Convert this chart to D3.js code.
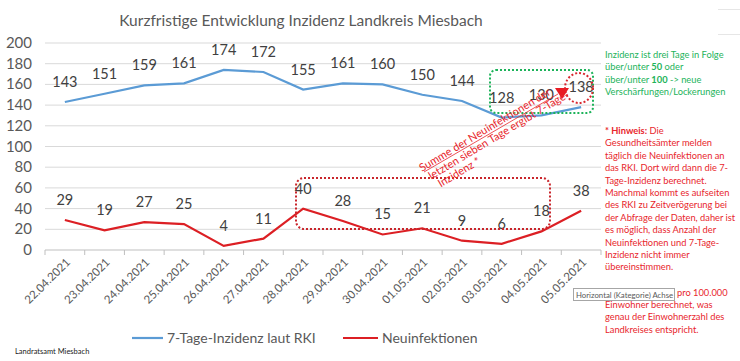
<!DOCTYPE html>
<html>
<head>
<meta charset="utf-8">
<title>Inzidenz Miesbach</title>
<script src="https://cdnjs.cloudflare.com/ajax/libs/d3/7.8.5/d3.min.js"></script>
<style>
  body { margin:0; background:#fff; }
  svg { font-family: Lato, "Liberation Sans", sans-serif; }
</style>
</head>
<body>
<svg width="740" height="361"></svg>
<script>
// data
var dates = ["22.04.2021","23.04.2021","24.04.2021","25.04.2021","26.04.2021","27.04.2021","28.04.2021",
             "29.04.2021","30.04.2021","01.05.2021","02.05.2021","03.05.2021","04.05.2021","05.05.2021"];
var inzidenz = [143,151,159,161,174,172,155,161,160,150,144,128,130,138];
var neuinfektionen = [29,19,27,25,4,11,40,28,15,21,9,6,18,38];
var yTicks = [0,20,40,60,80,100,120,140,160,180,200];

var greenNote = [
  [["Inzidenz ist drei Tage in Folge", false]],
  [["über/unter ", false], ["50", true], [" oder", false]],
  [["über/unter ", false], ["100", true], [" -> neue", false]],
  [["Verschärfungen/Lockerungen", false]]
];
var redNote = [
  [["* Hinweis:", true], [" Die", false]],
  [["Gesundheitsämter melden", false]],
  [["täglich die Neuinfektionen an", false]],
  [["das RKI. Dort wird dann die 7-", false]],
  [["Tage-Inzidenz berechnet.", false]],
  [["Manchmal kommt es aufseiten", false]],
  [["des RKI zu Zeitverögerung bei", false]],
  [["der Abfrage der Daten, daher ist", false]],
  [["es möglich, dass Anzahl der", false]],
  [["Neuinfektionen und 7-Tage-", false]],
  [["Inzidenz nicht immer", false]],
  [["übereinstimmen.", false]]
];
var redNote2 = [
  [["Einwohner berechnet, was", false]],
  [["genau der Einwohnerzahl des", false]],
  [["Landkreises entspricht.", false]]
];
var sumNote = ["Summe der Neuinfektionen der", "letzten sieben Tage ergibt 7-Tage-", "Inzidenz *"];

var svg = d3.select("svg");
var blue = "#5b9bd5", red = "#dc1f24", textRed = "#e8262c", green = "#1db35a";

var x = d3.scaleBand().domain(dates).range([45, 601]);
var y = d3.scaleLinear().domain([0, 200]).range([250, 43]);
var cx = function(d) { return x(d) + x.bandwidth() / 2; };

// title
svg.append("text").attr("x", 301).attr("y", 26).attr("text-anchor", "middle")
  .style("font-size", "15.5px").style("fill", "#595959")
  .text("Kurzfristige Entwicklung Inzidenz Landkreis Miesbach");

// grid
svg.append("g").selectAll("line").data(yTicks.filter(function(t){return t>0;})).enter().append("line")
  .attr("x1", 45).attr("x2", 601)
  .attr("y1", function(d){return y(d);}).attr("y2", function(d){return y(d);})
  .style("stroke", "#d9d9d9").style("stroke-width", 1);

// y labels
svg.append("g").selectAll("text").data(yTicks).enter().append("text")
  .attr("x", 32).attr("y", function(d){return y(d) + 5;})
  .attr("text-anchor", "end").style("font-size", "15px").style("fill", "#595959")
  .text(function(d){return d;});

// x axis
var xAxis = svg.append("g").attr("transform", "translate(0,250)");
xAxis.append("line").attr("x1", 45).attr("x2", 601).style("stroke", "#bfbfbf");
xAxis.selectAll("line.tk").data(dates.concat(["end"])).enter().append("line").attr("class", "tk")
  .attr("x1", function(d){ return d === "end" ? 601 : x(d); })
  .attr("x2", function(d){ return d === "end" ? 601 : x(d); })
  .attr("y1", 0).attr("y2", 5).style("stroke", "#bfbfbf");
xAxis.selectAll("text").data(dates).enter().append("text")
  .attr("transform", function(d){ return "translate(" + (cx(d) + 6) + ",13) rotate(-45)"; })
  .attr("text-anchor", "end").style("font-size", "11.5px").style("fill", "#595959")
  .text(function(d){return d;});

// lines
var line = function(vals) {
  return d3.line().x(function(d, i){ return cx(dates[i]); }).y(function(d){ return y(d); })(vals);
};
svg.append("path").attr("d", line(inzidenz)).style("fill", "none").style("stroke", blue).style("stroke-width", 2.2);
svg.append("path").attr("d", line(neuinfektionen)).style("fill", "none").style("stroke", red).style("stroke-width", 2.2);

// data labels
function labels(vals) {
  svg.append("g").selectAll("text").data(vals).enter().append("text")
    .attr("x", function(d, i){ return cx(dates[i]); })
    .attr("y", function(d){ return y(d) - 15; })
    .attr("text-anchor", "middle").style("font-size", "14.5px").style("fill", "#404040")
    .text(function(d){return d;});
}
labels(inzidenz);
labels(neuinfektionen);

// annotations
svg.append("rect").attr("x", 490).attr("y", 70).attr("width", 103).attr("height", 43)
  .attr("rx", 6).style("fill", "none").style("stroke", green).style("stroke-width", 2)
  .style("stroke-dasharray", "2,2");
svg.append("ellipse").attr("cx", 579).attr("cy", 88).attr("rx", 14).attr("ry", 15)
  .style("fill", "none").style("stroke", "#d9272e").style("stroke-width", 2).style("stroke-dasharray", "2,2");
svg.append("rect").attr("x", 296).attr("y", 178).attr("width", 254).attr("height", 51)
  .attr("rx", 8).style("fill", "none").style("stroke", "#c9252b").style("stroke-width", 2)
  .style("stroke-dasharray", "2,2");
svg.append("line").attr("x1", 424).attr("y1", 172).attr("x2", 558).attr("y2", 94)
  .style("stroke", textRed).style("stroke-width", 0.8);
svg.append("path").attr("d", "M555,88 L569,88 L562,99 Z").style("fill", "#e81c24");

var sum = svg.append("text").attr("transform", "translate(422,172) rotate(-31)")
  .style("font-size", "11px").style("fill", textRed);
sum.selectAll("tspan").data(sumNote).enter().append("tspan")
  .attr("x", function(d, i){ return i * 4; }).attr("y", function(d, i){ return i * 11.5; })
  .text(function(d){return d;});

// right-hand notes
function note(lines, y0, step, color) {
  var t = svg.append("text").style("font-size", "9.3px").style("fill", color);
  lines.forEach(function(parts, i) {
    parts.forEach(function(p, j) {
      var ts = t.append("tspan").text(p[0]).style("font-weight", p[1] ? "bold" : "normal");
      if (j === 0) ts.attr("x", 605).attr("y", y0 + i * step);
    });
  });
}
note(greenNote, 58, 12.4, green);
note(redNote, 134, 12.4, textRed);
note(redNote2, 308, 12.4, textRed);
svg.append("text").attr("x", 677).attr("y", 296).style("font-size", "9.3px").style("fill", textRed)
  .text("pro 100.000");

// tooltip box
svg.append("rect").attr("x", 573.5).attr("y", 288.5).attr("width", 101).attr("height", 12)
  .style("fill", "#fff").style("stroke", "#a6a6a6");
svg.append("text").attr("x", 576).attr("y", 297.5).style("font-size", "7.8px").style("fill", "#595959")
  .text("Horizontal (Kategorie) Achse");

// legend
svg.append("line").attr("x1", 132).attr("x2", 163).attr("y1", 338).attr("y2", 338).style("stroke", blue).style("stroke-width", 2.2);
svg.append("text").attr("x", 167).attr("y", 343).style("font-size", "14px").style("fill", "#595959").text("7-Tage-Inzidenz laut RKI");
svg.append("line").attr("x1", 343).attr("x2", 378).attr("y1", 338).attr("y2", 338).style("stroke", red).style("stroke-width", 2.2);
svg.append("text").attr("x", 382).attr("y", 343).style("font-size", "14px").style("fill", "#595959").text("Neuinfektionen");

svg.append("text").attr("x", 15).attr("y", 354).style("font-size", "7.5px").style("fill", "#222").text("Landratsamt Miesbach");

// faint sheet lines top right
svg.append("line").attr("x1", 718).attr("x2", 740).attr("y1", 9.5).attr("y2", 9.5).style("stroke", "#e6e6e6");
svg.append("line").attr("x1", 718).attr("x2", 740).attr("y1", 34.5).attr("y2", 34.5).style("stroke", "#e6e6e6");
</script>
</body>
</html>
